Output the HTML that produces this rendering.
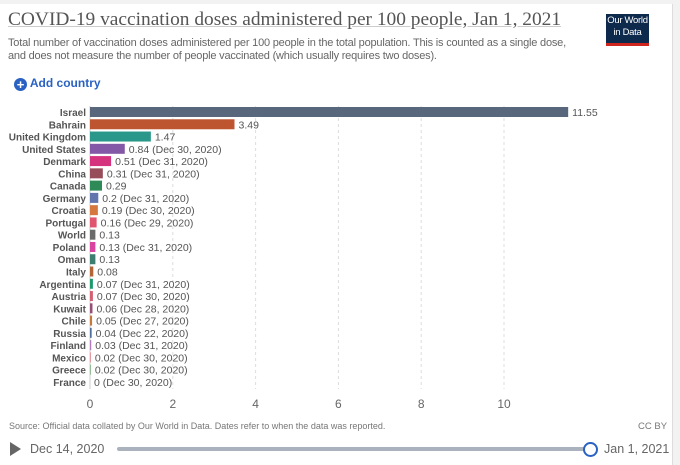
<!DOCTYPE html>
<html><head><meta charset="utf-8">
<style>
body{margin:0;width:680px;height:461px;background:#f2f2f2;font-family:"Liberation Sans",sans-serif;overflow:hidden;position:relative}
#card{position:absolute;left:0;top:4px;width:672px;height:461px;background:#fff;border-right:1px solid #ddd}
.t{position:absolute;white-space:nowrap}
</style></head><body>
<div id="card"></div>
<div class="t" style="left:8px;top:9px;font-family:'Liberation Serif',serif;font-size:19.4px;color:#555;text-decoration:underline;text-decoration-color:#ccc">COVID-19 vaccination doses administered per 100 people, Jan 1, 2021</div>
<div class="t" style="left:8px;top:37px;font-size:11px;line-height:13px;color:#666;letter-spacing:-0.2px">Total number of vaccination doses administered per 100 people in the total population. This is counted as a single dose,<br>and does not measure the number of people vaccinated (which usually requires two doses).</div>
<div class="t" style="left:606px;top:14px;width:43px;height:28px;background:#0d2a4d;border-bottom:3px solid #ce261e;color:#fff;font-size:9.5px;line-height:12px;text-align:center;padding-top:1px;letter-spacing:-0.3px">Our World<br>in Data</div>
<div class="t" style="left:14px;top:76px;font-size:12px;font-weight:bold;color:#2a62c3"><span style="display:inline-block;width:13px;height:13px;border-radius:50%;background:#2a62c3;color:#fff;text-align:center;line-height:13px;font-size:13px;vertical-align:-2px">+</span> Add country</div>
<svg id="chart" width="680" height="461" style="position:absolute;left:0;top:0"></svg>
<div class="t" style="left:9px;top:421px;font-size:9px;color:#777">Source: Official data collated by Our World in Data. Dates refer to when the data was reported.</div>
<div class="t" style="left:638px;top:421px;font-size:9.5px;color:#777">CC BY</div>
<div class="t" style="left:10px;top:442px;width:0;height:0;border-left:11px solid #666;border-top:7px solid transparent;border-bottom:7px solid transparent"></div>
<div class="t" style="left:30px;top:442px;font-size:12.5px;color:#666">Dec 14, 2020</div>
<div class="t" style="left:117px;top:447px;width:470px;height:4px;background:#aab2bd;border-radius:2px"></div>
<div class="t" style="left:583px;top:442px;width:11px;height:11px;border:2px solid #2a62c3;border-radius:50%;background:#fff"></div>
<div class="t" style="left:604px;top:442px;font-size:12.5px;color:#666">Jan 1, 2021</div>
<script>
const countries=["Israel","Bahrain","United Kingdom","United States","Denmark","China","Canada","Germany","Croatia","Portugal","World","Poland","Oman","Italy","Argentina","Austria","Kuwait","Chile","Russia","Finland","Mexico","Greece","France"];
const values=[11.55,3.49,1.47,0.84,0.51,0.31,0.29,0.2,0.19,0.16,0.13,0.13,0.13,0.08,0.07,0.07,0.06,0.05,0.04,0.03,0.02,0.02,0];
const dates=["","","","Dec 30, 2020","Dec 31, 2020","Dec 31, 2020","","Dec 31, 2020","Dec 30, 2020","Dec 29, 2020","","Dec 31, 2020","","","Dec 31, 2020","Dec 30, 2020","Dec 28, 2020","Dec 27, 2020","Dec 22, 2020","Dec 31, 2020","Dec 30, 2020","Dec 30, 2020","Dec 30, 2020"];
const colors=["#58677c","#bd5530","#2a978b","#8358a6","#d6337f","#974d59","#2e8b57","#6275ad","#d57840","#e0566f","#6b6b6b","#d8449f","#3d7e70","#b26638","#1d9a6c","#d45f72","#944f74","#c37a3a","#4f6f9a","#b07cc0","#e08590","#7fae84","#999"];
const ticks=[0,2,4,6,8,10];
const NS="http://www.w3.org/2000/svg";
const svg=document.getElementById('chart');
const x=v=>90+v*41.4;
const y=i=>112+i*12.27;
function mk(tag,attrs,txt){const e=document.createElementNS(NS,tag);for(const k in attrs)e.setAttribute(k,attrs[k]);if(txt!==undefined)e.textContent=txt;svg.appendChild(e);return e;}
ticks.forEach(t=>{
  if(t>0){const g=mk('line',{x1:x(t),x2:x(t),y1:106,y2:389,stroke:'#ddd','stroke-dasharray':'3,3'});
  
  }
  const l=mk('text',{x:x(t),y:408,'font-size':12,fill:'#666','text-anchor':'middle','font-family':'Liberation Sans'},t);
  
  
});
const ax=mk('line',{x1:90,x2:90,y1:106,y2:389,stroke:'#ccc'});


countries.forEach((c,i)=>{
  const cy=y(i);
  const lab=mk('text',{x:86,y:cy+4,'font-size':10,'font-weight':'bold',fill:'#555','text-anchor':'end','font-family':'Liberation Sans'},c);
  
  
  const w=x(values[i])-x(0);
  const b=mk('rect',{x:x(0),y:cy-5,width:w,height:10,fill:colors[i]});
  
  
  const v=mk('text',{x:x(values[i])+4,y:cy+4,'font-size':10.5,fill:'#555','font-family':'Liberation Sans'},values[i]+(dates[i]?' ('+dates[i]+')':''));
  
  
});
</script>
</body></html>
